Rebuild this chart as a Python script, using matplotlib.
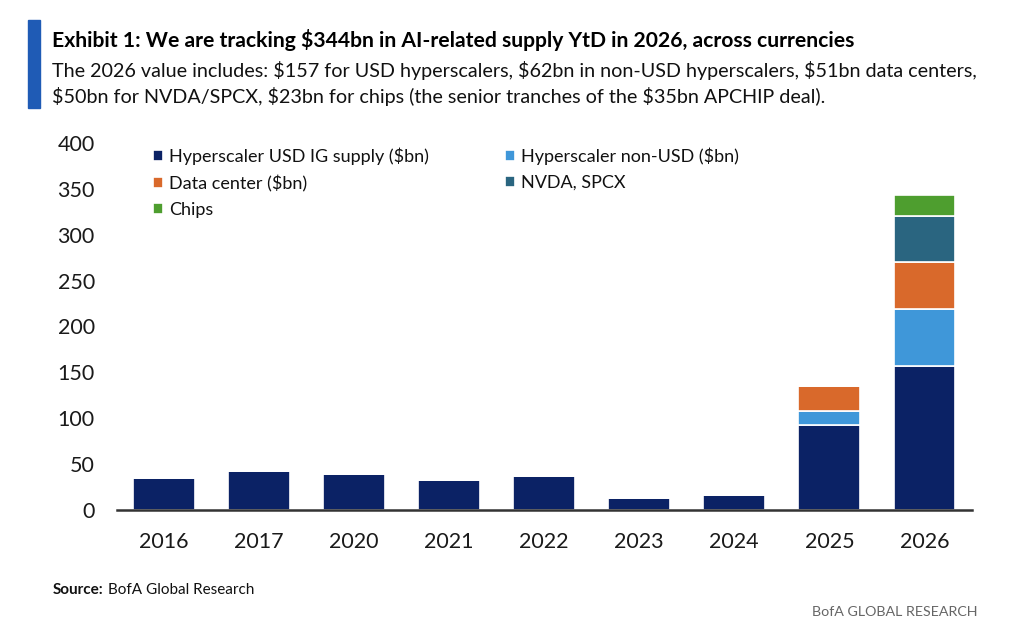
import matplotlib
matplotlib.use("Agg")
import matplotlib.pyplot as plt
import numpy as np
from matplotlib.patches import Rectangle

plt.rcParams['font.family'] = ['Lato', 'DejaVu Sans']

years = ["2016", "2017", "2020", "2021", "2022", "2023", "2024", "2025", "2026"]
hyperscaler_usd = [35, 42, 39, 33, 37, 13, 16, 93, 157]
hyperscaler_non_usd = [0, 0, 0, 0, 0, 0, 0, 15, 62]
data_center = [0, 0, 0, 0, 0, 0, 0, 27, 51]
nvda_spcx = [0, 0, 0, 0, 0, 0, 0, 0, 50]
chips = [0, 0, 0, 0, 0, 0, 0, 0, 23]

series = [
    ("Hyperscaler USD IG supply ($bn)", hyperscaler_usd, "#0b2265"),
    ("Hyperscaler non-USD ($bn)", hyperscaler_non_usd, "#3f97d9"),
    ("Data center ($bn)", data_center, "#d9692b"),
    ("NVDA, SPCX", nvda_spcx, "#2a6580"),
    ("Chips", chips, "#4e9e2f"),
]

fig = plt.figure(figsize=(10.26, 6.32), dpi=100)
ax = fig.add_axes([117/1026, 1-510/632, (972-117)/1026, (510-143)/632])

x = np.arange(len(years))
bottom = np.zeros(len(years))
handles = []
for name, vals, col in series:
    v = np.array(vals, dtype=float)
    b = ax.bar(x, v, 0.65, bottom=bottom, color=col, edgecolor="white", linewidth=1.2, label=name)
    bottom += v
    handles.append(b)

ax.set_xlim(-0.49, 8.5)
ax.set_ylim(0, 400)
ax.set_yticks(range(0, 401, 50))
ax.set_xticks(x)
ax.set_xticklabels(years)
for s in ["top", "right", "left"]:
    ax.spines[s].set_visible(False)
ax.spines["bottom"].set_color("#333333")
ax.spines["bottom"].set_linewidth(1.8)
ax.tick_params(axis="both", length=0, labelsize=15.5, colors="#1a1a1a")
ax.tick_params(axis="y", pad=16)
ax.tick_params(axis="x", pad=16)

order = [0, 2, 4, 1, 3]
leg = ax.legend([handles[i] for i in order], [series[i][0] for i in order],
                loc="upper left", bbox_to_anchor=(0.023, 1.032), ncol=2, frameon=False,
                fontsize=13, handlelength=0.55, handleheight=0.55, handletextpad=0.35,
                labelspacing=0.55, columnspacing=4.2)
for t in leg.get_texts():
    t.set_color("#111111")

fig.patches.append(Rectangle((28/1026, 1-108/632), 12/1026, 88/632, transform=fig.transFigure,
                             color="#1f5bb5", zorder=5))
fig.text(52/1026, 1-40/632, "Exhibit 1: We are tracking $344bn in AI-related supply YtD in 2026, across currencies",
         fontsize=15.2, fontweight="bold", va="center", ha="left", color="#000000")
fig.text(52/1026, 1-70/632, "The 2026 value includes: \\$157 for USD hyperscalers, \\$62bn in non-USD hyperscalers, \\$51bn data centers,",
         fontsize=14.2, va="center", ha="left", color="#111111")
fig.text(52/1026, 1-97/632, "\\$50bn for NVDA/SPCX, \\$23bn for chips (the senior tranches of the \\$35bn APCHIP deal).",
         fontsize=14.2, va="center", ha="left", color="#111111")

src_b = fig.text(53/1026, 1-590/632, "Source:", fontsize=11, fontweight="bold", va="center", ha="left", color="#111111")
fig.canvas.draw()
bb = src_b.get_window_extent(renderer=fig.canvas.get_renderer())
fig.text((bb.x1 + 4) / fig.bbox.width, 1-590/632, "BofA Global Research", fontsize=11, va="center", ha="left", color="#111111")
fig.text(978/1026, 1-612/632, "BofA GLOBAL RESEARCH", fontsize=10.3, va="center", ha="right", color="#666666")

fig.savefig("out.png", dpi=100)
